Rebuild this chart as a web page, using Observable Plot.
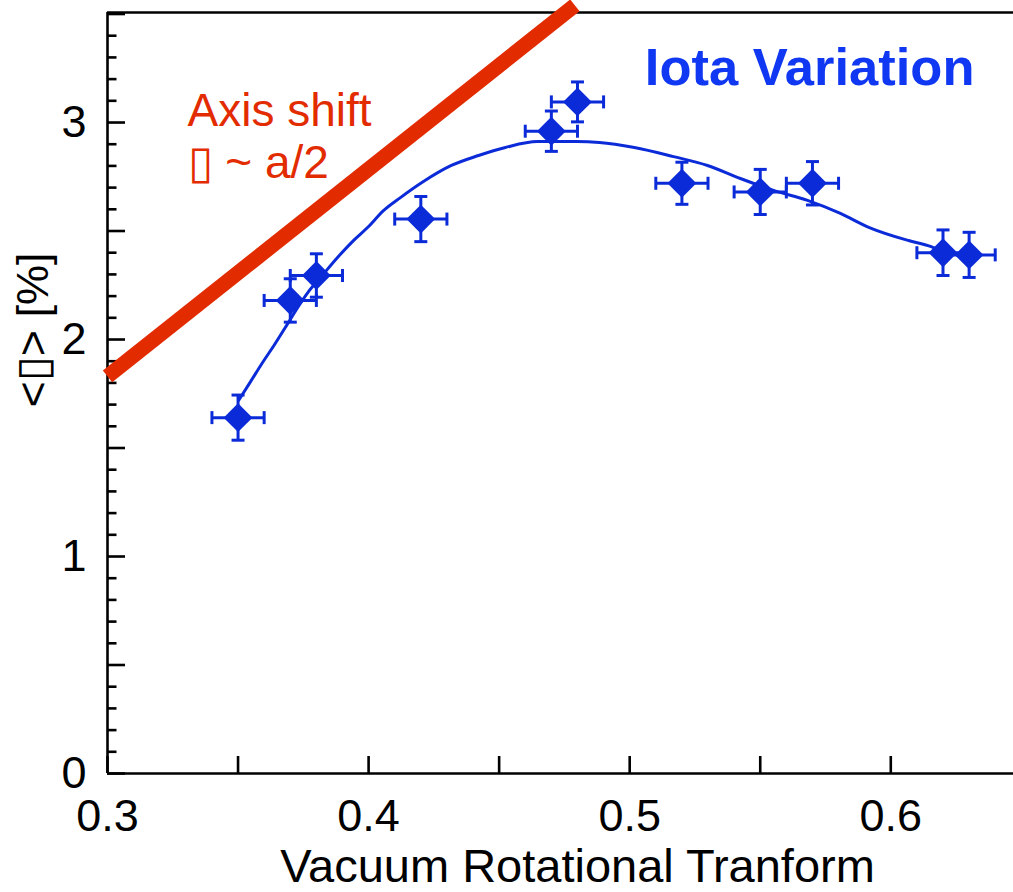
<!DOCTYPE html>
<html><head><meta charset="utf-8">
<script src="https://cdn.jsdelivr.net/npm/d3@7"></script>
<script src="https://cdn.jsdelivr.net/npm/@observablehq/plot@0.6"></script>
<style>html,body{margin:0;padding:0;background:#fff}#chart svg{display:block}</style>
</head><body><div id="chart"></div>
<script>
// measured points: vacuum rotational transform vs <beta> [%]
const iota    = [0.35, 0.37, 0.38, 0.42, 0.47, 0.48, 0.52, 0.55, 0.57, 0.62, 0.63];
const beta    = [1.64, 2.18, 2.295, 2.555, 2.96, 3.095, 2.72, 2.68, 2.72, 2.40, 2.39];
const iotaErr = [0.010, 0.010, 0.010, 0.010, 0.010, 0.010, 0.010, 0.010, 0.010, 0.010, 0.010];
const betaErr = [0.104, 0.10, 0.10, 0.104, 0.093, 0.092, 0.097, 0.104, 0.10, 0.105, 0.104];
// hand-drawn fit curve
const fitIota = [0.3502, 0.3548, 0.3594, 0.3640, 0.3686, 0.3728, 0.3770, 0.3816, 0.3881, 0.3942, 0.3996, 0.4057, 0.4122, 0.4210, 0.4317, 0.4421, 0.4524, 0.4647, 0.4796, 0.4884, 0.5018, 0.5168, 0.5298, 0.5424, 0.5551, 0.5681, 0.5807, 0.5918, 0.6068, 0.6152, 0.6190];
const fitBeta = [1.719, 1.806, 1.894, 1.977, 2.065, 2.147, 2.221, 2.286, 2.378, 2.456, 2.516, 2.594, 2.654, 2.728, 2.802, 2.848, 2.885, 2.912, 2.912, 2.908, 2.885, 2.843, 2.802, 2.742, 2.687, 2.641, 2.581, 2.516, 2.456, 2.429, 2.410];
// axis-shift limit line
const shiftIota = [0.30, 0.479];
const shiftBeta = [1.83, 3.54];
// axes
const xDomain = [0.3, 0.647];
const yDomain = [0, 3.507];
const xTickLabels = [0.3, 0.4, 0.5, 0.6];
const xTickMarks = [0.30, 0.35, 0.40, 0.45, 0.50, 0.55, 0.60];
const yTickLabels = [0, 1, 2, 3];
const yMajorTicks = [0, 0.5, 1, 1.5, 2, 2.5, 3, 3.5];
const yMinorTicks = [0.1,0.2,0.3,0.4,0.6,0.7,0.8,0.9,1.1,1.2,1.3,1.4,1.6,1.7,1.8,1.9,2.1,2.2,2.3,2.4,2.6,2.7,2.8,2.9,3.1,3.2,3.3,3.4];

const points = iota.map((x, i) => ({x, y: beta[i], ex: iotaErr[i], ey: betaErr[i]}));
const fit = fitIota.map((x, i) => ({x, y: fitBeta[i]}));
const shift = shiftIota.map((x, i) => ({x, y: shiftBeta[i]}));

const blue = "#0b2bd9";
const titleBlue = "#1038f2";
const red = "#e32b00";
const font = "'Liberation Sans', Arial, Helvetica, sans-serif";

const capH = {draw(ctx, size) { const h = Math.sqrt(size / Math.PI); ctx.moveTo(-h, 0); ctx.lineTo(h, 0); }};
const capV = {draw(ctx, size) { const h = Math.sqrt(size / Math.PI); ctx.moveTo(0, -h); ctx.lineTo(0, h); }};

const W = 1013, H = 892, mL = 107, mR = 0, mT = 12, mB = 119;
const frameW = W - mL - mR, frameH = H - mT - mB;

const chart = Plot.plot({
  width: W, height: H,
  marginLeft: mL, marginRight: mR, marginTop: mT, marginBottom: mB,
  x: {domain: xDomain},
  y: {domain: yDomain},
  style: {fontFamily: font, fontSize: "45px", background: "#fff", color: "#000", overflow: "visible"},
  marks: [
    // frame lines (left, bottom, top)
    Plot.ruleX([xDomain[0]], {x: d => d, stroke: "#000", strokeWidth: 2.6}),
    Plot.ruleY([yDomain[0], yDomain[1]], {y: d => d, stroke: "#000", strokeWidth: 2.6}),
    // inward ticks
    Plot.tickY(yMinorTicks, {y: d => d, insetRight: frameW - 9.5, stroke: "#000", strokeWidth: 2.6}),
    Plot.tickY(yMajorTicks, {y: d => d, insetRight: frameW - 18, stroke: "#000", strokeWidth: 2.6}),
    Plot.tickX(xTickMarks, {x: d => d, insetTop: frameH - 17, stroke: "#000", strokeWidth: 2.6}),
    // tick labels
    Plot.axisY({ticks: yTickLabels, tickSize: 0, tickPadding: 21, tickFormat: d3.format("d"), fontSize: 45, label: null}),
    Plot.axisX({ticks: xTickLabels, tickSize: 0, tickPadding: 26, tickFormat: d3.format(".1f"), fontSize: 45, label: null}),
    // axis titles
    Plot.text(["Vacuum Rotational Tranform"], {text: d => d, frameAnchor: "bottom", textAnchor: "middle", lineAnchor: "middle", dx: 17, dy: 93, fontSize: 47, fill: "#000"}),
    Plot.text(["<\u25AF> [%]"], {text: d => d, frameAnchor: "left", textAnchor: "middle", lineAnchor: "middle", rotate: -90, dx: -74, dy: -63, fontSize: 45, fill: "#000"}),
    // axis shift line
    Plot.line(shift, {x: "x", y: "y", stroke: red, strokeWidth: 15, strokeLinecap: "butt"}),
    // fit curve
    Plot.line(fit, {x: "x", y: "y", stroke: blue, strokeWidth: 3, curve: "monotone-x"}),
    // error bars
    Plot.ruleX(points, {x: "x", y1: d => d.y - d.ey, y2: d => d.y + d.ey, stroke: blue, strokeWidth: 3}),
    Plot.ruleY(points, {y: "y", x1: d => d.x - d.ex, x2: d => d.x + d.ex, stroke: blue, strokeWidth: 3}),
    Plot.dot(points, {x: "x", y: d => d.y + d.ey, symbol: capH, r: 6.5, fill: "none", stroke: blue, strokeWidth: 3}),
    Plot.dot(points, {x: "x", y: d => d.y - d.ey, symbol: capH, r: 6.5, fill: "none", stroke: blue, strokeWidth: 3}),
    Plot.dot(points, {x: d => d.x + d.ex, y: "y", symbol: capV, r: 6.5, fill: "none", stroke: blue, strokeWidth: 3}),
    Plot.dot(points, {x: d => d.x - d.ex, y: "y", symbol: capV, r: 6.5, fill: "none", stroke: blue, strokeWidth: 3}),
    // diamonds
    Plot.dot(points, {x: "x", y: "y", symbol: "diamond2", r: 13, fill: blue, stroke: "none"}),
    // annotations
    Plot.text(["Iota Variation"], {text: d => d, frameAnchor: "top-right", textAnchor: "end", lineAnchor: "middle", dx: -39, dy: 56, fontSize: 52.5, fontWeight: "bold", fill: titleBlue}),
    Plot.text(["Axis shift\n\u25AF ~ a/2"], {text: d => d, frameAnchor: "top-left", textAnchor: "start", lineAnchor: "top", lineHeight: 1.13, dx: 80, dy: 77, fontSize: 46, fill: red})
  ]
});
document.getElementById("chart").appendChild(chart);
</script>
</body></html>
